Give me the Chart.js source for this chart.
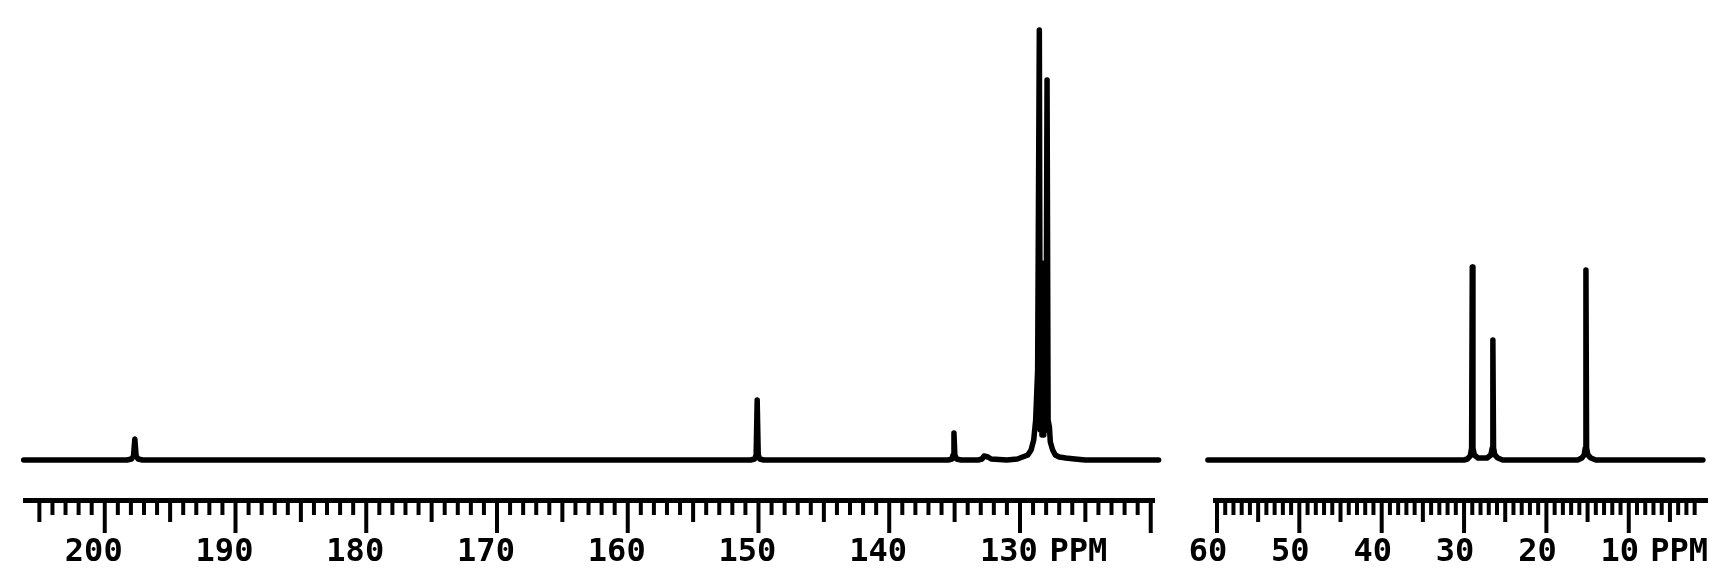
<!DOCTYPE html>
<html>
<head>
<meta charset="utf-8">
<script src="https://cdn.jsdelivr.net/npm/chart.js@4.4.0/dist/chart.umd.min.js"></script>
<style>
  html, body { margin: 0; padding: 0; background: #fff; }
  #wrap { position: relative; width: 1734px; height: 585px; background: #fff; }
  canvas { position: absolute; top: 0; }
  #left { left: 0; }
  #right { left: 1180px; }
</style>
</head>
<body>
<div id="wrap">
  <canvas id="left" width="1180" height="585"></canvas>
  <canvas id="right" width="554" height="585"></canvas>
</div>
<script>
// 13C spectrum, low field part (ppm, height above baseline)
const leftShift = [206.2, 198.3, 197.95, 197.8, 197.7, 197.6, 197.45, 197.1,
  150.6, 150.3, 150.18, 150.1, 150.02, 149.9, 149.6,
  135.5, 135.2, 135.12, 135.05, 134.98, 134.85, 134.5,
  133.2, 132.9, 132.75, 132.45, 132.2, 131.0,
  130.2, 129.8, 129.4, 129.15, 128.95, 128.8, 128.65, 128.52, 128.45, 128.38, 128.32,
  128.25, 128.18, 128.1, 128.02, 127.93, 127.85, 127.75, 127.68, 127.5, 127.3, 127.0,
  126.5, 125.8, 125.0, 119.4];
const leftHeight = [0, 0, 1, 4, 21, 4, 1, 0,
  0, 1, 5, 60, 5, 1, 0,
  0, 1, 5, 27, 5, 1, 0,
  0, 1, 4, 3, 1, 0,
  1, 3, 5, 10, 20, 40, 90, 430, 30, 197, 25,
  190, 25, 150, 30, 380, 40, 33, 18, 10, 5, 3,
  2, 1, 0, 0];

// high field part
const rightShift = [61.1, 30.0, 29.6, 29.25, 29.08, 29.0, 28.92, 28.75, 28.3,
  27.2, 26.75, 26.58, 26.5, 26.42, 26.25, 25.9, 25.3,
  16.2, 15.7, 15.42, 15.28, 15.2, 15.12, 14.95, 14.6, 14.0, 1.0];
const rightHeight = [0, 0, 1, 4, 12, 193, 12, 5, 2,
  2, 5, 12, 120, 12, 5, 2, 0,
  0, 2, 5, 12, 190, 12, 5, 2, 0, 0];

const leftLabels = [200, 190, 180, 170, 160, 150, 140, 130];
const rightLabels = [60, 50, 40, 30, 20, 10];
const leftUnitAt = 124.7;
const rightUnitAt = 2.8;

function points(xs, ys) {
  return xs.map((x, i) => ({ x: x, y: ys[i] }));
}

function tickList(from, to, unitAt) {
  const t = [];
  for (let v = from; v <= to; v++) t.push({ value: v });
  t.push({ value: unitAt });
  t.sort((a, b) => a.value - b.value);
  return t;
}

// plotter style ticks: 1 ppm short, 5 ppm medium, 10 ppm long
const ppmTicks = {
  id: 'ppmTicks',
  afterDraw(chart) {
    const s = chart.scales.x;
    const ctx = chart.ctx;
    ctx.save();
    ctx.strokeStyle = '#000';
    ctx.lineWidth = 4;
    s.ticks.forEach(t => {
      const v = t.value;
      if (!Number.isInteger(v)) return;
      const len = v % 10 === 0 ? 33 : (v % 5 === 0 ? 22 : 15);
      const x = s.getPixelForValue(v);
      ctx.beginPath();
      ctx.moveTo(x, s.top);
      ctx.lineTo(x, s.top + len);
      ctx.stroke();
    });
    ctx.restore();
  }
};

function makeChart(id, data, xmin, xmax, tfrom, tto, labels, unitAt, labelOffset, pad) {
  return new Chart(document.getElementById(id), {
    type: 'line',
    data: {
      datasets: [{
        data: data,
        borderColor: '#000',
        borderWidth: 5.5,
        borderJoinStyle: 'round',
        borderCapStyle: 'round',
        pointRadius: 0,
        tension: 0,
        clip: false
      }]
    },
    options: {
      responsive: false,
      animation: false,
      devicePixelRatio: 1,
      layout: { padding: pad },
      plugins: { legend: { display: false }, tooltip: { enabled: false } },
      scales: {
        x: {
          type: 'linear',
          reverse: true,
          min: xmin,
          max: xmax,
          afterBuildTicks: s => { s.ticks = tickList(tfrom, tto, unitAt); },
          afterFit: s => { s.height = 85; },
          grid: { drawOnChartArea: false, drawTicks: true, tickLength: 20, tickColor: 'rgba(0,0,0,0)' },
          border: { display: true, color: '#000', width: 5 },
          ticks: {
            autoSkip: false,
            maxRotation: 0,
            padding: 13,
            labelOffset: labelOffset,
            color: '#000',
            font: { family: "'DejaVu Sans Mono', monospace", weight: 'bold', size: 32 },
            callback: v => labels.includes(v) ? String(v) : (v === unitAt ? 'PPM' : '')
          }
        },
        y: { display: false, min: -40, max: 440 }
      }
    },
    plugins: [ppmTicks]
  });
}

makeChart('left', points(leftShift, leftHeight), 119.75, 206.1, 120, 205,
  leftLabels, leftUnitAt, -11, { top: 20, left: 25, right: 26, bottom: 0 });
makeChart('right', points(rightShift, rightHeight), 0.5, 60.24, 2, 60,
  rightLabels, rightUnitAt, -9, { top: 20, left: 35, right: 27, bottom: 0 });
</script>
</body>
</html>
